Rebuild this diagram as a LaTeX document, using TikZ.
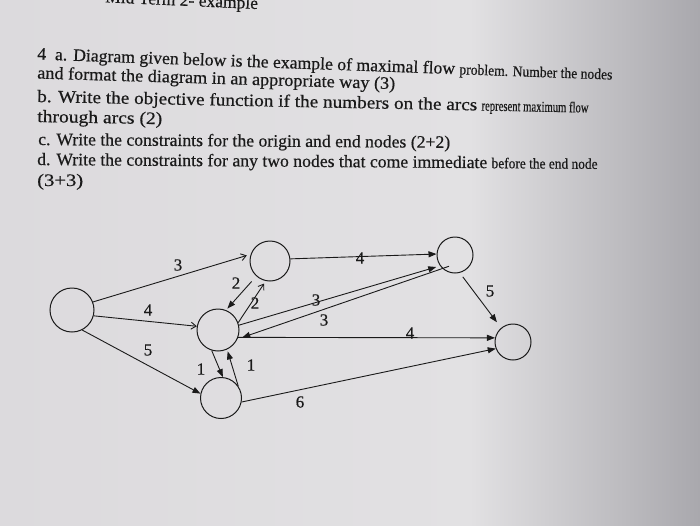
\documentclass[tikz,border=0pt]{standalone}
\usepackage{fontspec}
\setmainfont{Liberation Serif}[FakeBold=0.5]
\usepackage{graphicx}
\usetikzlibrary{arrows.meta}
\definecolor{ink}{HTML}{1A1A1A}
\definecolor{bgL}{HTML}{DCDADD}
\definecolor{bgM}{HTML}{E2E1E3}
\definecolor{bgR}{HTML}{A9A8AD}
\begin{document}
\begin{tikzpicture}[x=1pt,y=-1pt,
  vtx/.style={circle,draw=ink,line width=1pt,minimum size=#1,inner sep=0pt},
  arc/.style={draw=ink,line width=0.9pt,-{Triangle[length=8pt,width=6pt]}},
  oarc/.style={draw=ink,line width=0.9pt,-{Straight Barb[length=5pt,width=7pt]}},
  lbl/.style={font=\fontsize{17}{17}\selectfont,text=ink,inner sep=0pt},
  txt/.style={anchor=base west,inner sep=0pt,text=ink,font=\fontsize{17.5}{21}\selectfont}]
\useasboundingbox (0,0) rectangle (700,525);
\clip (0,0) rectangle (700,525);
\shade[left color=bgL,right color=bgM] (0,0) rectangle (470,525);
\shade[left color=bgM,right color=bgR] (469.5,0) rectangle (700,525);

% header (cut off at top)
\node[txt,anchor=base east,rotate=-2.5] (hd) at (258,9) {Mid Term 2- example};

% question text
\node[txt,rotate=-2.0] (t1) at (37,59.5) {\resizebox{418pt}{\height}{4\ \ a. Diagram given below is the example of maximal flow}\ {\fontsize{15}{18}\selectfont\resizebox{153pt}{\height}{problem. Number the nodes}}};
\node[txt,rotate=-1.7] (t2) at (37,78.5) {\resizebox{358pt}{\height}{and format the diagram in an appropriate way (3)}};
\node[txt,rotate=-1.1] (t3) at (37,102) {\resizebox{440pt}{\height}{b. Write the objective function if the numbers on the arcs}\ {\fontsize{15}{18}\selectfont\resizebox{107pt}{\height}{represent maximum flow}}};
\node[txt,rotate=-1.0] (t4) at (37,122) {\resizebox{125pt}{\height}{through arcs (2)}};
\node[txt,rotate=-0.4] (t5) at (38,145) {\resizebox{412pt}{\height}{c. Write the constraints for the origin and end nodes (2+2)}};
\node[txt,rotate=-0.4] (t6) at (37,165) {\resizebox{450pt}{\height}{d. Write the constraints for any two nodes that come immediate}\ {\fontsize{15}{18}\selectfont\resizebox{106pt}{\height}{before the end node}}};
\node[txt] (t7) at (37,186) {\resizebox{46pt}{\height}{(3+3)}};

% network nodes
\node[vtx=44pt] (n1) at (72,310) {};
\node[vtx=40pt] (n2) at (270,261) {};
\node[vtx=42pt] (n3) at (218,330) {};
\node[vtx=41pt] (n4) at (221,398) {};
\node[vtx=36pt] (n5) at (455,255) {};
\node[vtx=36pt] (n6) at (513,342) {};

% arcs
\draw[oarc,shorten >=4pt] (n1.21) -- (n2.161);
\draw[oarc] (n1.-15) -- (n3.170);
\draw[arc] (n1.-63) -- (n4.168);
\draw[arc,shorten <=7pt,shorten >=2pt] (n2.-132) -- (n3.68);
\draw[oarc,shorten >=3pt] (n3.20) -- (n2.-102);
\draw[arc] (n3.-107) -- (n4.85);
\draw[arc,shorten >=2pt] (n4.35) -- (n3.-65);
\draw[arc] (n2.6) -- (n5.177);
\draw[arc,shorten >=4pt] (n3.13) -- (n5.-144);
\draw[arc,shorten <=-7pt,shorten >=5pt] (n5.-133) -- (n3.-25);
\draw[arc] (n3.-20) -- (n6.167);
\draw[arc] (n4.-11) -- (n6.-159);
\draw[arc,shorten <=5pt,shorten >=7pt] (n5.-75) -- (n6.130);

% arc labels
\node[lbl] (l12) at (178,265) {3};
\node[lbl] (l13) at (148,310) {4};
\node[lbl] (l14) at (148,350) {5};
\node[lbl] (l23) at (236,283) {2};
\node[lbl] (l32) at (255,303) {2};
\node[lbl] (l34) at (201,369) {1};
\node[lbl] (l43) at (251,365) {1};
\node[lbl] (l25) at (360,258) {4};
\node[lbl] (l35) at (316,300) {3};
\node[lbl] (l53) at (324,320) {3};
\node[lbl] (l36) at (410,333) {4};
\node[lbl] (l46) at (300,402) {6};
\node[lbl] (l56) at (490,291) {5};
\end{tikzpicture}
\end{document}
